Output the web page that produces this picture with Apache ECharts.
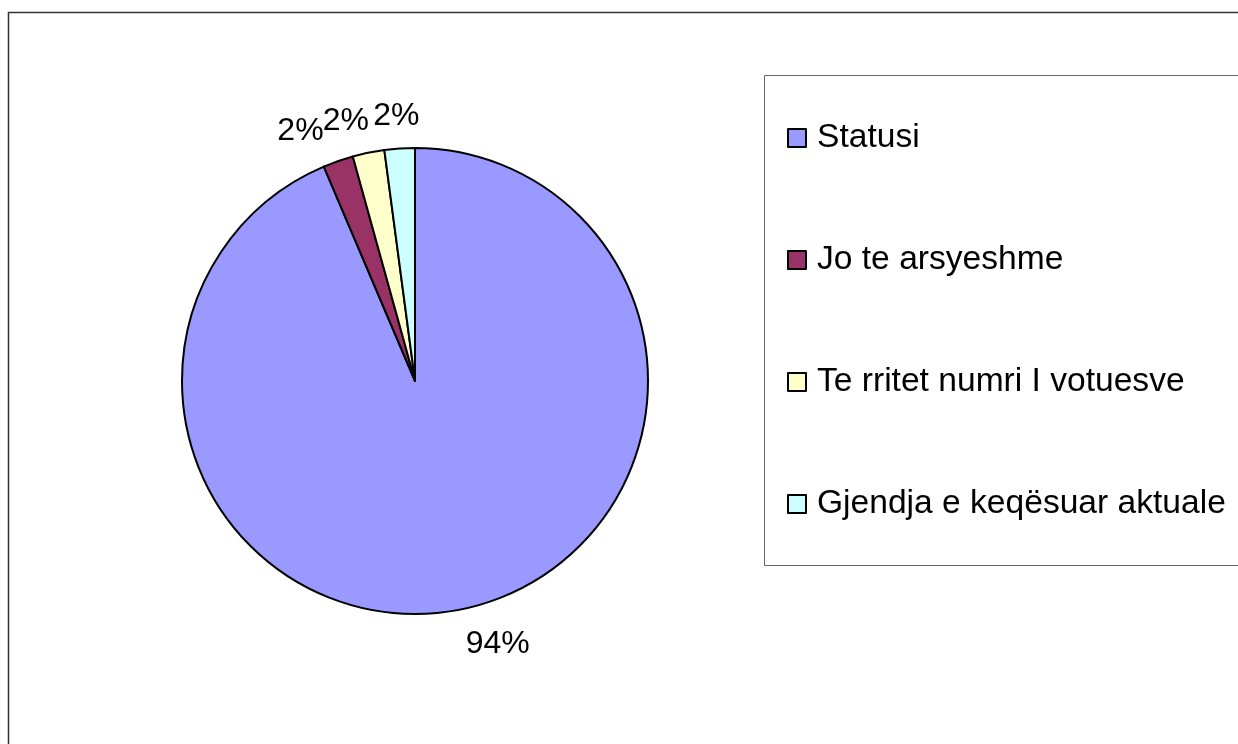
<!DOCTYPE html>
<html>
<head>
<meta charset="utf-8">
<script src="https://cdn.jsdelivr.net/npm/echarts@6/dist/echarts.min.js"></script>
<style>
  html, body { margin: 0; padding: 0; background: #fff; }
  #chart { width: 1238px; height: 744px; }
</style>
</head>
<body>
<div id="chart"></div>
<script>
// slices, clockwise from 12 o'clock
const categories = ['Statusi', 'Jo te arsyeshme', 'Te rritet numri I votuesve', 'Gjendja e keqësuar aktuale'];
const values = [93.6, 2.1, 2.2, 2.1];
const colors = ['#9999FF', '#993366', '#FFFFCC', '#CCFFFF'];
// label placement: leader length and gap from its end (leaders are hidden)
const labelLens = [36, 32, 32, 32];
const labelGaps = [-3, 4, -7, -22];

let chart = echarts.init(document.getElementById('chart'));

let seriesData = categories.map((name, i) => ({
  name: name,
  value: values[i],
  itemStyle: { color: colors[i] },
  label: { distanceToLabelLine: labelGaps[i] },
  labelLine: { length: labelLens[i] }
}));

let option = {
  animation: false,
  textStyle: { fontFamily: 'Liberation Sans, Arial, sans-serif' },
  graphic: [
    {
      // chart area frame
      type: 'rect',
      shape: { x: 8.5, y: 12.5, width: 1300, height: 800 },
      style: { fill: 'none', stroke: '#333', lineWidth: 1.5 },
      silent: true
    },
    {
      // legend frame
      type: 'rect',
      shape: { x: 764.5, y: 75.5, width: 520, height: 490 },
      style: { fill: 'none', stroke: '#666', lineWidth: 1 },
      silent: true
    }
  ],
  legend: {
    orient: 'vertical',
    left: 782,
    top: 116,
    itemWidth: 18,
    itemHeight: 18,
    itemGap: 88,
    icon: 'rect',
    data: categories,
    itemStyle: { borderColor: '#000', borderWidth: 2 },
    textStyle: {
      fontSize: 33.6,
      lineHeight: 33,
      color: '#000',
      padding: [0, 0, 0, 6],
      fontFamily: 'Liberation Sans, Arial, sans-serif'
    }
  },
  series: [{
    type: 'pie',
    center: [415, 381],
    radius: 233,
    startAngle: 90,
    clockwise: true,
    avoidLabelOverlap: false,
    data: seriesData,
    itemStyle: { borderColor: '#000', borderWidth: 2 },
    label: {
      show: true,
      position: 'outside',
      fontSize: 32,
      color: '#000',
      fontFamily: 'Liberation Sans, Arial, sans-serif',
      formatter: (p) => Math.round(p.percent) + '%'
    },
    labelLine: { show: false, length2: 0 },
    labelLayout: { hideOverlap: false },
    emphasis: { disabled: true }
  }]
};
chart.setOption(option);
</script>
</body>
</html>
